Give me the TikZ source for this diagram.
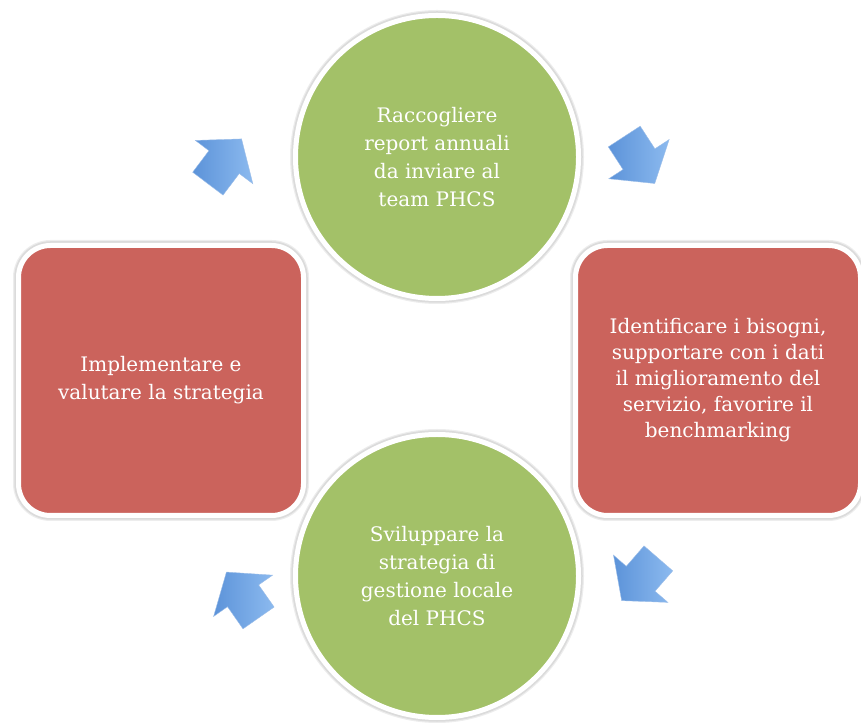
\documentclass[tikz,border=0pt]{standalone}
\usepackage{fontspec}
\setmainfont{DejaVu Serif}
\usepackage{xcolor}
\usepackage{tikz}
\usetikzlibrary{positioning}
\definecolor{stagegreen}{HTML}{A3C168}
\definecolor{stagered}{HTML}{CB635C}
\definecolor{flowdark}{HTML}{5C93D9}
\definecolor{flowlight}{HTML}{8CBAEF}

\begin{document}
\begin{tikzpicture}[x=1pt, y=1pt,
  halo/.style={preaction={draw=black!7, line width=11pt}, preaction={draw=black!14, line width=8.5pt}},
  stage/.style={circle, minimum size=283pt, inner sep=0pt, fill=stagegreen, draw=white, line width=5pt, align=center, text=white, font=\fontsize{20}{28}\selectfont, halo},
  task/.style={rectangle, rounded corners=32pt, minimum width=285pt, minimum height=270pt, inner sep=0pt, fill=stagered, draw=white, line width=5pt, align=center, text=white, font=\fontsize{20}{28}\selectfont, halo},
  flow/.style={left color=flowdark, right color=flowlight, draw=flowdark!60, line width=0.4pt}
]
  \useasboundingbox (0,0) rectangle (861,722);

  \node[stage] (collect) at (437,565) {Raccogliere\\report annuali\\da inviare al\\team PHCS};
  \node[stage, below=131pt of collect] (develop) {Sviluppare la\\strategia di\\gestione locale\\del PHCS};
  \node[task] (impl) at (161,341.5) {Implementare e\\valutare la strategia};
  \node[task, right=267pt of impl, font=\fontsize{20}{26}\selectfont] (ident) {Identificare i bisogni,\\supportare con i dati\\il miglioramento del\\servizio, favorire il\\benchmarking};

  % block arrows round the cycle
  \foreach \x/\y/\a in {224.7/560.7/53, 639.5/562/-57, 640/142.5/-131, 242.5/127/125}
    \path[flow, shift={(\x,\y)}, rotate=\a]
      (-28,-19) -- (-1,-19) -- (-1,-36) -- (28,0) -- (-1,36) -- (-1,19) -- (-28,19) -- cycle;
\end{tikzpicture}
\end{document}
